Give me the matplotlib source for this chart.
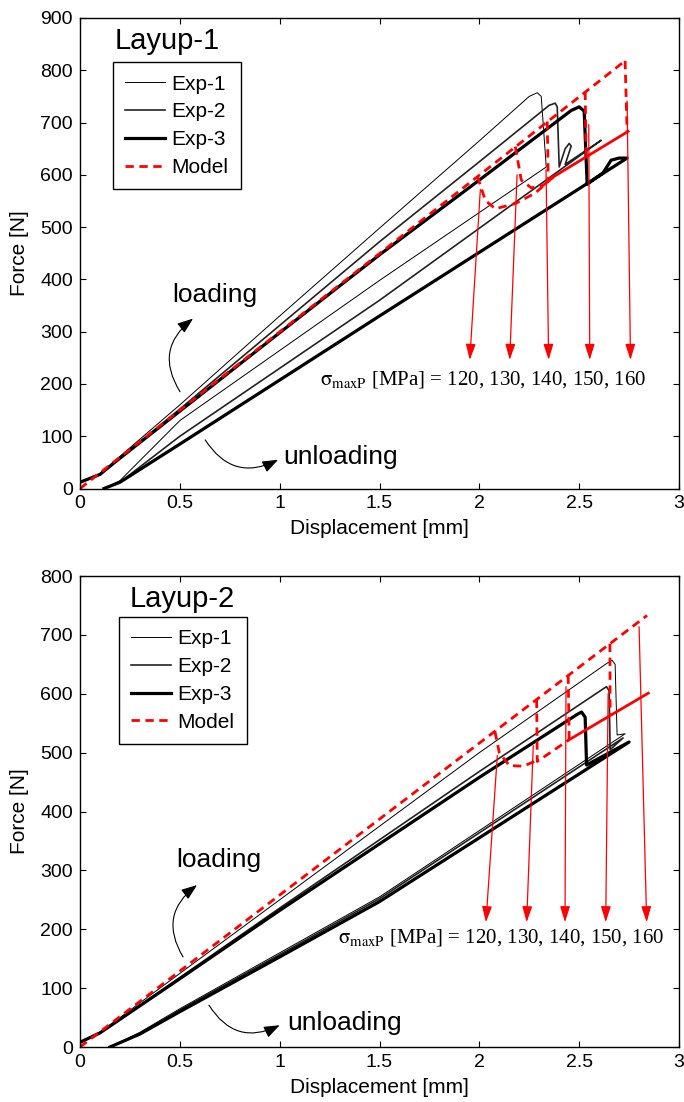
import matplotlib
matplotlib.use('Agg')
import matplotlib.pyplot as plt

plt.rcParams['font.family'] = ['Liberation Sans', 'DejaVu Sans']
plt.rcParams['mathtext.fontset'] = 'stix'

# ---------------- Layup-1 data (displacement [mm], force [N]) ----------------
L1_exp1_x = [0, 0.1, 0.18, 0.5, 1.0, 1.5, 2.0, 2.25, 2.29, 2.31, 2.335, 1.5, 0.5, 0.2, 0.12]
L1_exp1_f = [12, 28, 55, 160, 330, 498, 665, 750, 757, 750, 615, 398, 130, 15, 0]

L1_exp2_x = [0, 0.1, 0.18, 0.5, 1.0, 1.5, 2.0, 2.35, 2.38, 2.39, 2.40, 2.43, 2.45, 2.46, 2.43, 2.61, 1.5, 0.5, 0.2, 0.12]
L1_exp2_f = [12, 27, 52, 152, 312, 472, 625, 733, 737, 730, 615, 650, 660, 655, 620, 666, 360, 100, 12, 0]

L1_exp3_x = [0, 0.1, 0.18, 0.5, 1.0, 1.5, 2.0, 2.46, 2.50, 2.525, 2.54, 2.62, 2.66, 2.70, 2.74, 1.5, 0.5, 0.2, 0.12]
L1_exp3_f = [12, 27, 52, 148, 298, 447, 590, 723, 730, 722, 582, 604, 628, 632, 632, 330, 85, 12, 0]

L1_model_peak_x = [1.99, 2.18, 2.34, 2.53, 2.73]
L1_model_peak_f = [597, 654, 702, 759, 818]
# post-peak paths of the model
L1_m120_x = [1.99, 2.03, 2.08, 2.18, 2.28, 2.37]
L1_m120_f = [597, 551, 535, 545, 565, 596]
L1_m130_x = [2.18, 2.21, 2.26, 2.32, 2.37]
L1_m130_f = [654, 590, 575, 580, 596]
L1_m140_x = [2.34, 2.345, 2.37]
L1_m140_f = [702, 592, 596]
L1_m150_x = [2.53, 2.535]
L1_m150_f = [759, 634]
L1_m160_x = [2.73, 2.74]
L1_m160_f = [818, 683]
L1_resid_x = [2.37, 2.745]
L1_resid_f = [596, 683]

L1_arrow_tail_x = [2.005, 2.189, 2.334, 2.548, 2.740]
L1_arrow_tail_f = [572, 600, 610, 696, 741]
L1_arrow_head_x = [1.952, 2.152, 2.347, 2.553, 2.757]
L1_arrow_head_f = [246, 246, 246, 246, 246]

# ---------------- Layup-2 data ----------------
L2_exp1_x = [0, 0.1, 0.5, 1.0, 1.5, 2.0, 2.64, 2.665, 2.68, 2.69, 2.73, 1.5, 1.0, 0.5, 0.3, 0.15]
L2_exp1_f = [8, 25, 125, 250, 375, 500, 652, 657, 650, 530, 532, 255, 160, 65, 25, 0]

L2_exp2_x = [0, 0.1, 0.5, 1.0, 1.5, 2.0, 2.61, 2.637, 2.65, 2.655, 2.72, 1.5, 1.0, 0.5, 0.3, 0.15]
L2_exp2_f = [8, 24, 118, 236, 352, 468, 606, 612, 605, 505, 525, 252, 157, 63, 23, 0]

L2_exp3_x = [0, 0.1, 0.5, 1.0, 1.5, 2.0, 2.49, 2.512, 2.53, 2.537, 2.75, 1.5, 1.0, 0.5, 0.3, 0.15]
L2_exp3_f = [8, 24, 116, 232, 345, 458, 565, 569, 560, 479, 518, 247, 153, 60, 22, 0]

L2_model_peak_x = [2.078, 2.287, 2.445, 2.654, 2.84]
L2_model_peak_f = [536, 590, 631, 685, 733]
L2_m120_x = [2.078, 2.10, 2.15, 2.22, 2.29]
L2_m120_f = [536, 500, 478, 477, 487]
L2_m130_x = [2.287, 2.29, 2.45]
L2_m130_f = [590, 485, 522]
L2_m140_x = [2.445, 2.45]
L2_m140_f = [631, 522]
L2_m150_x = [2.654, 2.655]
L2_m150_f = [685, 563]
L2_resid_x = [2.45, 2.846]
L2_resid_f = [522, 601]

L2_arrow_tail_x = [2.09, 2.27, 2.434, 2.645, 2.80]
L2_arrow_tail_f = [495, 512, 612, 600, 714]
L2_arrow_head_x = [2.033, 2.237, 2.429, 2.633, 2.838]
L2_arrow_head_f = [212, 212, 212, 212, 212]

sigma_label = r'$\mathrm{\sigma_{maxP}}$ [MPa] = 120, 130, 140, 150, 160'

RED = '#ff0000'
DASH = (0, (3, 2))


def draw_panel(ax, d, ymax, title, leg_anchor, title_pos, sig_pos,
               load_txt, load_arr, unload_txt, unload_arr):
    ax.plot(d['e1x'], d['e1f'], color='black', lw=0.7, label='Exp-1')
    ax.plot(d['e2x'], d['e2f'], color='#222222', lw=1.2, label='Exp-2')
    ax.plot(d['e3x'], d['e3f'], color='black', lw=2.3, label='Exp-3')

    # model: loading up to largest peak, then post-peak paths
    ax.plot([0] + [d['px'][-1]], [0] + [d['pf'][-1]], color=RED, lw=2,
            ls=DASH, label='Model')
    for mx, mf in d['paths']:
        ax.plot(mx, mf, color=RED, lw=2, ls=DASH)
    ax.plot(d['rx'], d['rf'], color=RED, lw=2)

    for tx, tf, hx, hf in zip(d['atx'], d['atf'], d['ahx'], d['ahf']):
        ax.annotate('', xy=(hx, hf), xytext=(tx, tf),
                    arrowprops=dict(arrowstyle='-|>,head_length=0.8,head_width=0.25',
                                    color=RED, lw=0.9, mutation_scale=12,
                                    shrinkA=0, shrinkB=0))

    ax.text(sig_pos[0], sig_pos[1], sigma_label, family='Liberation Serif',
            fontsize=15, va='baseline', ha='left')

    ax.text(load_txt[0], load_txt[1], 'loading', fontsize=19, va='baseline')
    ax.annotate('', xy=load_arr[1], xytext=load_arr[0],
                arrowprops=dict(arrowstyle='-|>,head_length=0.8,head_width=0.3',
                                color='black', lw=0.8, mutation_scale=12,
                                connectionstyle='arc3,rad=-0.45',
                                shrinkA=0, shrinkB=0))
    ax.text(unload_txt[0], unload_txt[1], 'unloading', fontsize=19, va='baseline')
    ax.annotate('', xy=unload_arr[1], xytext=unload_arr[0],
                arrowprops=dict(arrowstyle='-|>,head_length=0.8,head_width=0.3',
                                color='black', lw=0.8, mutation_scale=12,
                                connectionstyle='arc3,rad=0.45',
                                shrinkA=0, shrinkB=0))

    ax.text(title_pos[0], title_pos[1], title, transform=ax.transAxes,
            fontsize=21, va='baseline')

    leg = ax.legend(loc='upper left', bbox_to_anchor=leg_anchor, borderaxespad=0,
                    fancybox=False, edgecolor='black', fontsize=15,
                    handlelength=1.9, labelspacing=0.42, borderpad=0.6,
                    handletextpad=0.3)
    leg.get_frame().set_linewidth(1.0)
    leg.get_frame().set_alpha(1)

    ax.set_xlim(0, 3)
    ax.set_ylim(0, ymax)
    ax.set_xticks([0, 0.5, 1, 1.5, 2, 2.5, 3])
    ax.set_xticklabels(['0', '0.5', '1', '1.5', '2', '2.5', '3'])
    ax.set_yticks(range(0, ymax + 1, 100))
    ax.tick_params(direction='in', top=True, right=True, length=4, width=0.8,
                   labelsize=14, pad=5)
    for s in ax.spines.values():
        s.set_linewidth(1.0)
    ax.set_xlabel('Displacement [mm]', fontsize=15, labelpad=5)
    ax.set_ylabel('Force [N]', fontsize=15, labelpad=8)


fig = plt.figure(figsize=(6.84, 11.02), dpi=100)
ax1 = fig.add_axes([0.1170, 0.5567, 0.8757, 0.4270])
ax2 = fig.add_axes([0.1170, 0.0499, 0.8757, 0.4274])

d1 = dict(e1x=L1_exp1_x, e1f=L1_exp1_f, e2x=L1_exp2_x, e2f=L1_exp2_f,
          e3x=L1_exp3_x, e3f=L1_exp3_f, px=L1_model_peak_x, pf=L1_model_peak_f,
          paths=[(L1_m120_x, L1_m120_f), (L1_m130_x, L1_m130_f), (L1_m140_x, L1_m140_f),
                 (L1_m150_x, L1_m150_f), (L1_m160_x, L1_m160_f)],
          rx=L1_resid_x, rf=L1_resid_f,
          atx=L1_arrow_tail_x, atf=L1_arrow_tail_f,
          ahx=L1_arrow_head_x, ahf=L1_arrow_head_f)
draw_panel(ax1, d1, 900, 'Layup-1', (0.055, 0.906), (0.057, 0.934), (1.203, 198),
           (0.461, 357), ((0.501, 185), (0.566, 325)),
           (1.018, 47), ((0.627, 93), (0.992, 55)))

d2 = dict(e1x=L2_exp1_x, e1f=L2_exp1_f, e2x=L2_exp2_x, e2f=L2_exp2_f,
          e3x=L2_exp3_x, e3f=L2_exp3_f, px=L2_model_peak_x, pf=L2_model_peak_f,
          paths=[(L2_m120_x, L2_m120_f), (L2_m130_x, L2_m130_f), (L2_m140_x, L2_m140_f),
                 (L2_m150_x, L2_m150_f)],
          rx=L2_resid_x, rf=L2_resid_f,
          atx=L2_arrow_tail_x, atf=L2_arrow_tail_f,
          ahx=L2_arrow_head_x, ahf=L2_arrow_head_f)
draw_panel(ax2, d2, 800, 'Layup-2', (0.065, 0.913), (0.083, 0.934), (1.292, 177),
           (0.481, 306), ((0.516, 153), (0.586, 275)),
           (1.037, 29), ((0.646, 71), (1.0, 37)))

fig.savefig('out.png', dpi=100)
